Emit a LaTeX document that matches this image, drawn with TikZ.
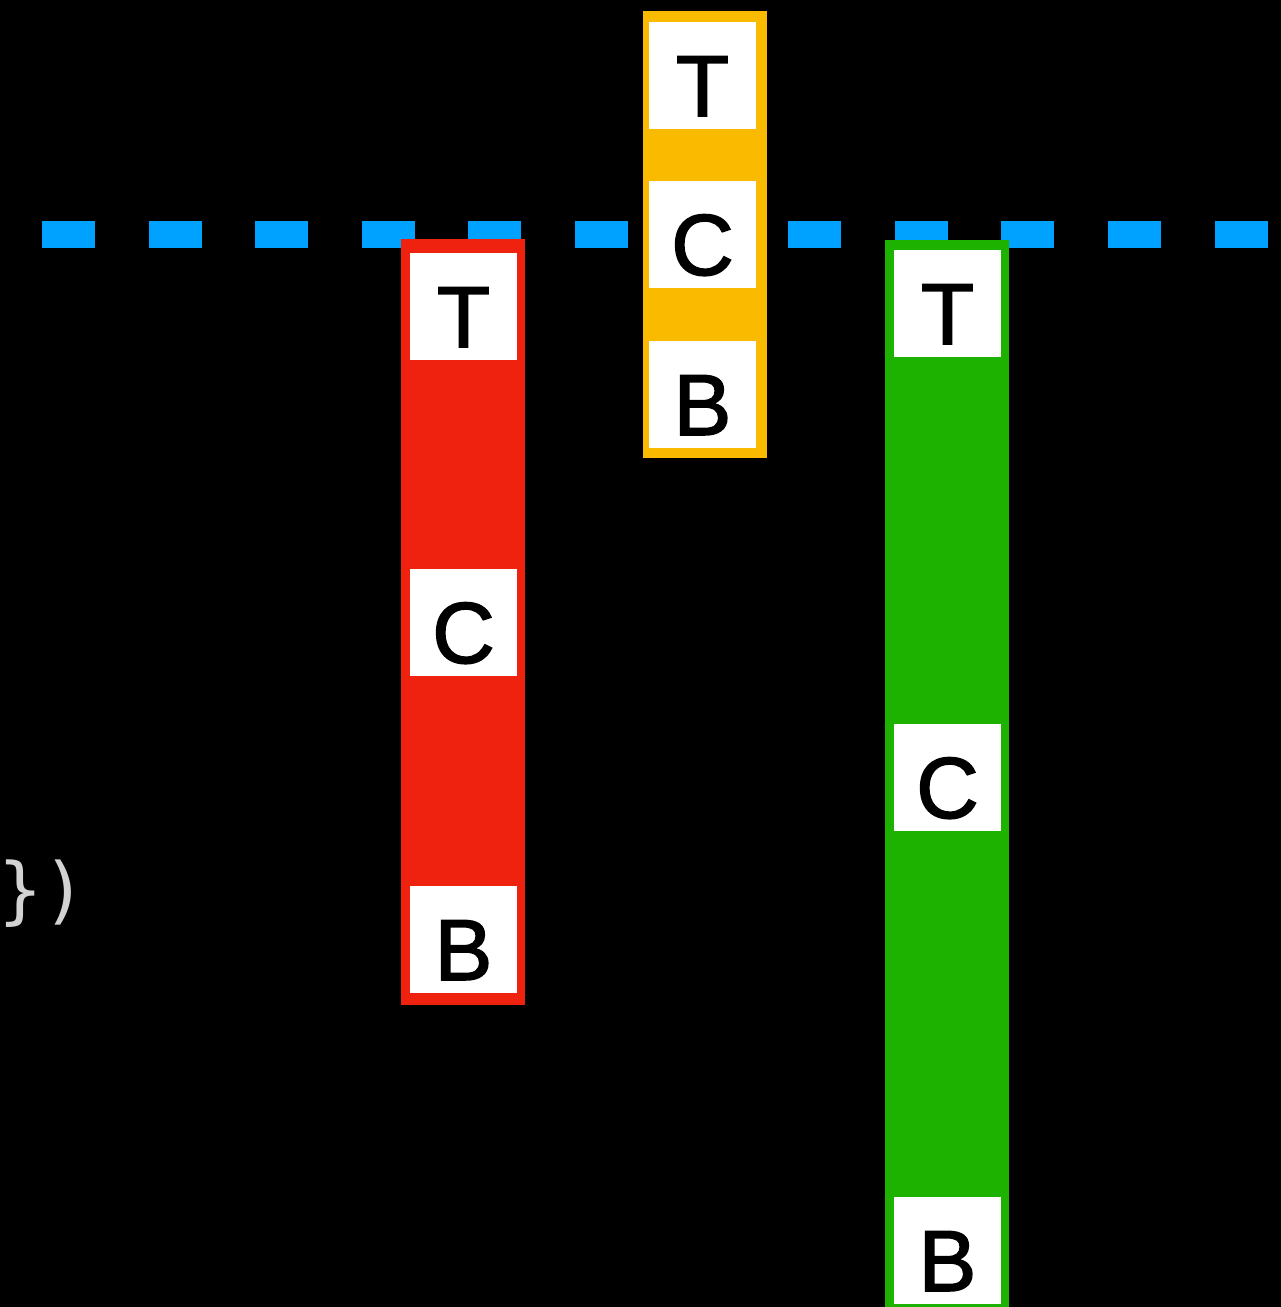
\documentclass[tikz,border=0pt]{standalone}
\usepackage{fontspec}
\setmainfont{Liberation Sans}[FakeBold=1.8]
\newfontfamily\codefont{DejaVu Sans Mono}
\usetikzlibrary{positioning, calc}
\definecolor{colred}{RGB}{239,34,16}
\definecolor{colyellow}{RGB}{249,186,0}
\definecolor{colgreen}{RGB}{29,177,0}
\definecolor{lineblue}{RGB}{0,162,255}
\definecolor{codegray}{RGB}{210,210,210}

\begin{document}
\begin{tikzpicture}[
  x=0.75pt, y=-0.75pt,
  column/.style={draw=none, inner sep=0pt, minimum width=93pt},
  cell/.style={fill=white, inner sep=0pt, minimum width=80.25pt,
               minimum height=80.25pt, text height=60.7pt, text depth=0pt,
               font=\fontsize{65}{65}\selectfont},
  refline/.style={lineblue, line width=20.25pt,
                  dash pattern=on 39.75pt off 40.2pt}
]
\fill[black] (0,0) rectangle (1281,1307);
\clip (0,0) rectangle (1281,1307);
% dashed reference line
\coordinate (lineL) at (42,234.5);
\coordinate (lineR) at (1268,234.5);
\draw[refline] (lineL) -- (lineR);
% columns
\node[column, fill=colred, minimum height=574.5pt] (redcol) at (463,622) {};
\node[column, fill=colyellow, minimum height=335.25pt] (yellowcol) at (705,234.5) {};
\node[column, fill=colgreen, minimum height=807pt] (greencol) at (947,778) {};
% cells
\node[cell] (redT) at (463.5,306.5) {T};
\node[cell] (redC) at (463.5,622.5) {C};
\node[cell] (redB) at (463.5,939.5) {B};
\node[cell] (yellowT) at (702.5,75.5) {T};
\node[cell] (yellowC) at (702.5,234.5) {C};
\node[cell] (yellowB) at (702.5,394.5) {B};
\node[cell] (greenT) at (947.5,303.5) {T};
\node[cell] (greenC) at (947.5,777.5) {C};
\node[cell] (greenB) at (947.5,1250.5) {B};
% code fragment
\node[anchor=base west, inner sep=0pt, text=codegray,
      font=\codefont\fontsize{55}{55}\selectfont] (code) at (-2,915) {\})};
\end{tikzpicture}
\end{document}
